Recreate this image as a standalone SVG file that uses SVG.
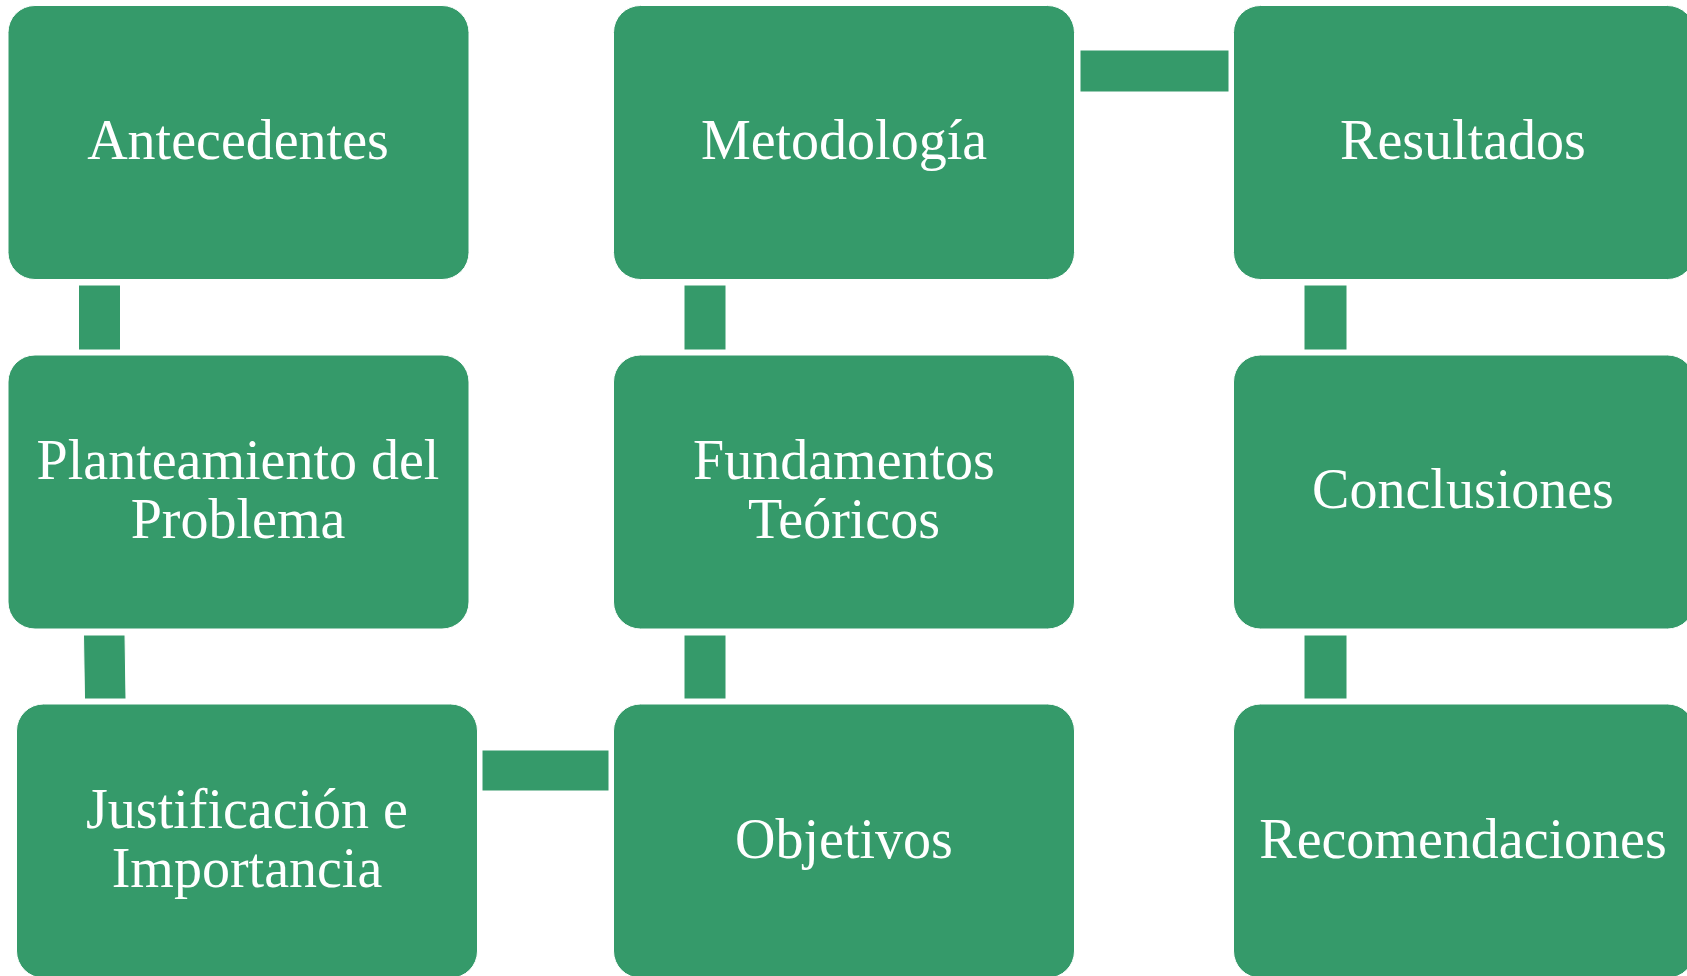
<svg xmlns="http://www.w3.org/2000/svg" width="1687" height="976" viewBox="0 0 1687 976">
<style>
.box{fill:#359A6A;stroke:#ffffff;stroke-width:1}
.con{fill:#359A6A;stroke:#ffffff;stroke-width:1}
.t{fill:#ffffff;font-family:"Liberation Serif","DejaVu Serif",serif;font-size:56px;text-anchor:middle}
</style>
<rect width="1687" height="976" fill="#ffffff"/>
<g id="connectors">
<rect class="con" x="78.5" y="285" width="42" height="65"/>
<polygon class="con" points="83.5,635 125,635 126,699 84.5,699"/>
<rect class="con" x="482" y="750" width="127" height="41"/>
<rect class="con" x="684" y="635" width="42" height="64"/>
<rect class="con" x="684" y="285" width="42" height="65"/>
<rect class="con" x="1080" y="50" width="149" height="42"/>
<rect class="con" x="1304" y="285" width="43" height="65"/>
<rect class="con" x="1304" y="635" width="43" height="64"/>
</g>
<g id="antecedentes">
<rect class="box" x="8" y="5.5" width="461" height="274" rx="27"/>
<text class="t" x="238" y="159">Antecedentes</text>
</g>
<g id="planteamiento">
<rect class="box" x="8" y="355" width="461" height="274" rx="27"/>
<text class="t" x="238" y="479">Planteamiento del</text>
<text class="t" x="238" y="538">Problema</text>
</g>
<g id="justificacion">
<rect class="box" x="16.5" y="704" width="461" height="274" rx="27"/>
<text class="t" x="247" y="828">Justificación e</text>
<text class="t" x="247" y="887">Importancia</text>
</g>
<g id="objetivos">
<rect class="box" x="613.5" y="704" width="461" height="274" rx="27"/>
<text class="t" x="844" y="858">Objetivos</text>
</g>
<g id="fundamentos">
<rect class="box" x="613.5" y="355" width="461" height="274" rx="27"/>
<text class="t" x="844" y="479">Fundamentos</text>
<text class="t" x="844" y="538">Teóricos</text>
</g>
<g id="metodologia">
<rect class="box" x="613.5" y="5.5" width="461" height="274" rx="27"/>
<text class="t" x="844" y="159">Metodología</text>
</g>
<g id="resultados">
<rect class="box" x="1233.5" y="5.5" width="461" height="274" rx="27"/>
<text class="t" x="1463" y="159">Resultados</text>
</g>
<g id="conclusiones">
<rect class="box" x="1233.5" y="355" width="461" height="274" rx="27"/>
<text class="t" x="1463" y="508">Conclusiones</text>
</g>
<g id="recomendaciones">
<rect class="box" x="1233.5" y="704" width="461" height="274" rx="27"/>
<text class="t" x="1463" y="858">Recomendaciones</text>
</g>
</svg>
